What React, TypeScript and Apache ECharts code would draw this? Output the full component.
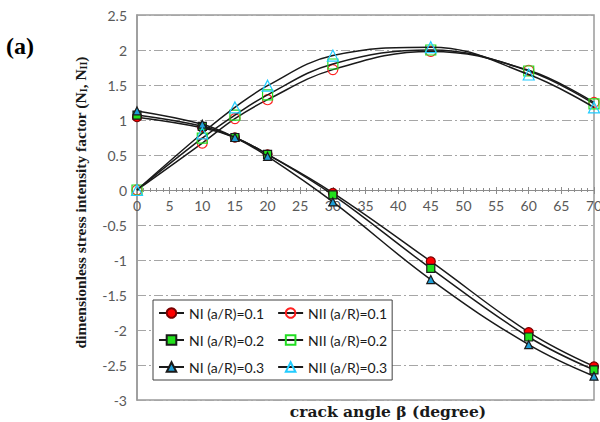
import React, { useEffect, useRef } from "react";
import * as echarts from "echarts";

const angles = [0, 10, 15, 20, 30, 45, 60, 70];
const NI_01 = [1.04, 0.89, 0.75, 0.51, -0.04, -1.02, -2.03, -2.52];
const NI_02 = [1.07, 0.91, 0.75, 0.51, -0.07, -1.12, -2.1, -2.57];
const NI_03 = [1.13, 0.94, 0.75, 0.48, -0.17, -1.28, -2.21, -2.66];
const NII_01 = [0, 0.67, 1.02, 1.29, 1.72, 1.98, 1.71, 1.25];
const NII_02 = [0, 0.74, 1.07, 1.36, 1.8, 2.0, 1.7, 1.23];
const NII_03 = [0, 0.81, 1.18, 1.49, 1.92, 2.04, 1.65, 1.18];

const seriesNames = [
  "NI (a/R)=0.1",
  "NII (a/R)=0.1",
  "NI (a/R)=0.2",
  "NII (a/R)=0.2",
  "NI (a/R)=0.3",
  "NII (a/R)=0.3",
];

const Y_MIN = -3;
const Y_MAX = 2.5;
const GRID_TOP = 15;
const GRID_BOTTOM = 22;
const CHART_H = 422;

const pair = (ys: number[]) => angles.map((x, i) => [x, ys[i]]);

export default function App() {
  const ref = useRef<HTMLDivElement>(null);
  useEffect(() => {
    if (!ref.current) return;
    const chart = echarts.init(ref.current, null, { renderer: "svg" });
    const mk = (
      name: string,
      ys: number[],
      symbol: string,
      size: number,
      fill: string,
      border: string,
      z: number
    ) => ({
      name,
      type: "line",
      xAxisIndex: 0,
      data: pair(ys),
      smooth: 0.4,
      symbol,
      symbolSize: size,
      showSymbol: true,
      lineStyle: { color: "#1a1a1a", width: 1.5 },
      itemStyle: { color: fill, borderColor: border, borderWidth: 1.2 },
      z,
    });
    // position of the value 0 on the y axis, relative to the grid edges
    const plotH = CHART_H - GRID_TOP - GRID_BOTTOM;
    const zeroFromBottom = ((0 - Y_MIN) / (Y_MAX - Y_MIN)) * plotH;
    const zeroFromTop = plotH - zeroFromBottom;
    const tickFont = { fontFamily: "Lato", fontSize: 14, color: "#595959" };
    chart.setOption({
      animation: false,
      grid: {
        left: 137,
        top: GRID_TOP,
        right: 6,
        bottom: GRID_BOTTOM,
        outerBoundsMode: "none",
        containLabel: false,
        show: true,
        borderColor: "#9a9a9a",
        borderWidth: 1.5,
      },
      xAxis: [
        {
          type: "value",
          position: "bottom",
          offset: -zeroFromBottom,
          min: 0,
          max: 70,
          interval: 5,
          axisLine: { show: true, onZero: false, lineStyle: { color: "#8c8c8c", width: 1.2 } },
          axisTick: { show: true, length: 4, lineStyle: { color: "#8c8c8c" } },
          minorTick: { show: true, splitNumber: 5, length: 2, lineStyle: { color: "#8c8c8c" } },
          axisLabel: {
            ...tickFont,
            margin: 8,
            showMaxLabel: true,
            alignMaxLabel: "center",
            alignMinLabel: "center",
          },
          splitLine: { show: false },
        },
        {
          type: "value",
          position: "top",
          offset: -zeroFromTop,
          min: 0,
          max: 70,
          interval: 5,
          axisLine: { show: false, onZero: false },
          axisTick: { show: true, length: 3, lineStyle: { color: "#8c8c8c" } },
          minorTick: { show: true, splitNumber: 5, length: 2, lineStyle: { color: "#8c8c8c" } },
          axisLabel: { show: false },
          splitLine: { show: false },
        },
      ],
      yAxis: {
        type: "value",
        min: Y_MIN,
        max: Y_MAX,
        interval: 0.5,
        axisLine: { show: true, onZero: false, lineStyle: { color: "#9a9a9a", width: 1.5 } },
        axisTick: { show: false },
        axisLabel: { ...tickFont, margin: 10 },
        splitLine: {
          show: true,
          lineStyle: { color: "#a6a6a6", width: 1, type: [9, 3, 2, 3] },
        },
        name: "{b|dimensionless stress intensity factor (N}{s|I}{b|, N}{s|II}{b|)}",
        nameLocation: "middle",
        nameGap: 49,
        nameRotate: 90,
        nameTextStyle: {
          padding: [0, 0, 0, 10],
          rich: {
            b: { fontFamily: "Liberation Serif", fontWeight: "bold", fontSize: 15.5, color: "#1a1a1a" },
            s: { fontFamily: "Liberation Serif", fontWeight: "bold", fontSize: 10, color: "#1a1a1a", verticalAlign: "bottom", padding: [4, 0, 0, 0] },
          },
        },
      },
      legend: {
        left: 153,
        top: 300,
        width: 232,
        orient: "horizontal",
        padding: [6, 5, 6, 5],
        itemGap: 13,
        itemWidth: 25,
        itemHeight: 12,
        borderColor: "#404040",
        borderWidth: 1,
        backgroundColor: "#ffffff",
        textStyle: { fontFamily: "Lato", fontSize: 14, color: "#1a1a1a" },
        data: seriesNames,
      },
      graphic: [
        {
          type: "text",
          left: 6,
          top: 34,
          style: {
            text: "(a)",
            fontFamily: "Liberation Serif",
            fontWeight: "bold",
            fontSize: 24,
            fill: "#000",
          },
        },
        {
          type: "text",
          x: 388,
          y: 411,
          style: {
            text: "crack angle β (degree)",
            fontFamily: "DejaVu Serif",
            fontWeight: "bold",
            fontSize: 15.5,
            fill: "#1a1a1a",
            align: "center",
            verticalAlign: "middle",
          },
        },
      ],
      series: [
        mk(seriesNames[0], NI_01, "circle", 9, "#ff0000", "#7a0000", 3),
        mk(seriesNames[1], NII_01, "circle", 10, "rgba(255,255,255,0)", "#ff2020", 3),
        mk(seriesNames[2], NI_02, "rect", 8, "#22e01c", "#1a1a1a", 4),
        mk(seriesNames[3], NII_02, "rect", 10, "rgba(255,255,255,0)", "#22dd22", 4),
        mk(seriesNames[4], NI_03, "triangle", 8, "#1f9ed6", "#1a1a1a", 5),
        mk(seriesNames[5], NII_03, "triangle", 11, "rgba(255,255,255,0)", "#22ccff", 5),
      ],
    });
    return () => chart.dispose();
  }, []);
  return (
    <div
      ref={ref}
      style={{ position: "fixed", left: 0, top: 0, width: 600, height: 422, background: "#fff" }}
    />
  );
}
